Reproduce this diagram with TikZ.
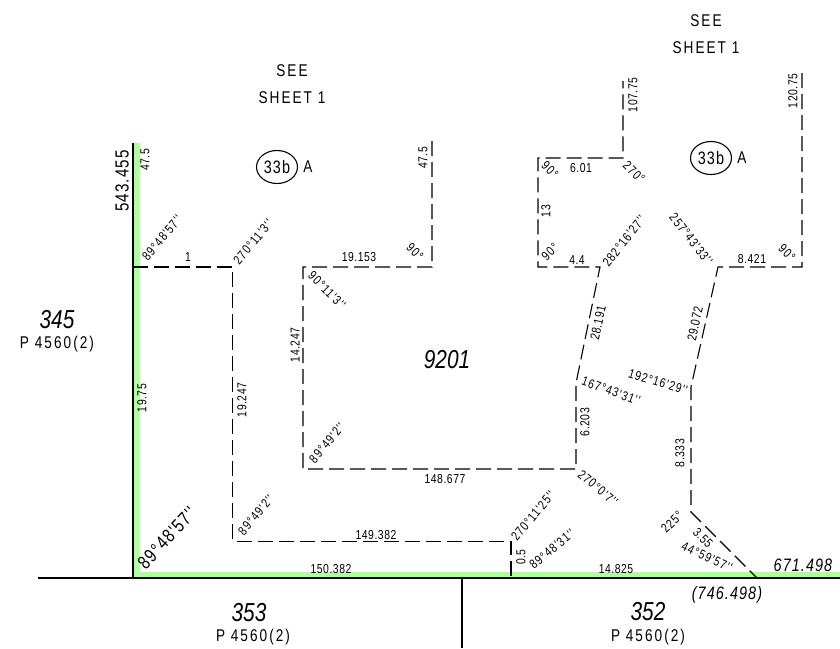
\documentclass[tikz,border=0pt]{standalone}
\usepackage{fontspec}
\setmainfont[FakeStretch=0.8,Ligatures=TeXOff]{Liberation Sans}
\newfontfamily\dimfont[FakeStretch=0.8,Ligatures=TeXOff,LetterSpace=4]{Liberation Sans}
\newfontfamily\angfont[FakeStretch=0.8,Ligatures=TeXOff,LetterSpace=8]{Liberation Sans}
\newfontfamily\midfont[FakeStretch=0.8,Ligatures=TeXOff,LetterSpace=6]{Liberation Sans}
\newfontfamily\widefont[FakeStretch=0.8,Ligatures=TeXOff,LetterSpace=12]{Liberation Sans}
\usetikzlibrary{shapes.geometric}
\definecolor{boundary}{RGB}{178,255,160}
\tikzstyle{dim}=[inner sep=0pt,font=\fontsize{13}{13}\selectfont\dimfont]
\tikzstyle{ang}=[inner sep=0pt,font=\fontsize{13}{13}\selectfont\angfont]
\tikzstyle{note}=[inner sep=0pt,font=\fontsize{17}{17}\selectfont\widefont]
\tikzstyle{bearing}=[inner sep=0pt,font=\fontsize{19}{19}\selectfont\midfont]
\tikzstyle{slanted}=[inner sep=0pt,font=\fontsize{18}{18}\selectfont\midfont\itshape]
\tikzstyle{lot}=[inner sep=0pt,font=\fontsize{26}{26}\selectfont\itshape]
\tikzstyle{tag}=[ellipse,draw,line width=1.1pt,minimum width=41pt,minimum height=33pt,inner sep=0pt,font=\fontsize{18}{18}\selectfont\midfont]
\tikzstyle{lotline}=[line width=1.1pt]
\tikzstyle{easement}=[line width=1.1pt,dash pattern=on 15pt off 6pt]
\tikzstyle{green}=[line width=6pt,draw=boundary]

\begin{document}
\begin{tikzpicture}[x=1pt,y=-1pt]
			\useasboundingbox (0,0) rectangle (840,648);
			\fill[white] (0,0) rectangle (840,648);

			\coordinate (nw) at (133,143); \coordinate (sw) at (133,578);
			\coordinate (west) at (38,578); \coordinate (east) at (840,578);
			\coordinate (lotn) at (462,578); \coordinate (lots) at (462,648);
			\coordinate (gnw) at (137,143); \coordinate (gsw) at (137,575); \coordinate (gse) at (840,575);

			\draw[green] (gnw) -- (gsw) -- (gse);
			\draw[lotline] (nw) -- (sw);
			\draw[lotline] (west) -- (east);
			\draw[lotline] (lotn) -- (lots);

			\coordinate (a1) at (133,267); \coordinate (a2) at (232.6,267); \coordinate (a3) at (232.6,541.4);
			\coordinate (a4) at (511,541.4); \coordinate (a5) at (511,576);
			\draw[easement] (a1) -- (a2) -- (a3) -- (a4) -- (a5);

			\coordinate (b1) at (432,141); \coordinate (b2) at (432,267); \coordinate (b3) at (303,267);
			\coordinate (b4) at (303,469); \coordinate (b5) at (576,469); \coordinate (b6) at (576,383);
			\coordinate (b7) at (600,267); \coordinate (b8) at (538,267); \coordinate (b9) at (538,158);
			\coordinate (b10) at (623,158); \coordinate (b11) at (623,81);
			\draw[easement] (b1) -- (b2) -- (b3) -- (b4) -- (b5) -- (b6) -- (b7) -- (b8) -- (b9) -- (b10) -- (b11);

			\coordinate (c1) at (802,73); \coordinate (c2) at (802,267); \coordinate (c3) at (718,267);
			\coordinate (c4) at (691,387); \coordinate (c5) at (691,512); \coordinate (c6) at (757,578);
			\draw[easement] (c1) -- (c2) -- (c3) -- (c4) -- (c5) -- (c6);

			\node [note] (see1) at (292,71) {SEE}; \node [note] (sheet1) at (292,98) {SHEET 1};
			\node [note] (see2) at (706,21) {SEE}; \node [note] (sheet2) at (706,48) {SHEET 1};
			\node [tag] (tag1) at (277,167) {33b}; \node [note] (tagA1) at (308,167) {A};
			\node [tag] (tag2) at (711,158) {33b}; \node [note] (tagA2) at (742,158) {A};

			\node [bearing,rotate=90] (brg1) at (122,181) {543.455};
			\node [bearing,rotate=47] (brg2) at (167,538) {89°48'57''};
			\node [slanted] (brg3) at (803,565) {671.498};
			\node [slanted] (brg4) at (727,595) {(746.498)};

			\node [lot] (lot345) at (57,320) {345}; \node [note] (plan345) at (57,344) {P 4560(2)};
			\node [lot] (lot353) at (249,613) {353}; \node [note] (plan353) at (253,637) {P 4560(2)};
			\node [lot] (lot352) at (648,612) {352}; \node [note] (plan352) at (648,637) {P 4560(2)};
			\node [lot] (lot9201) at (447,360) {9201};

			\node [dim,rotate=90] (len1) at (145,160) {47.5};
			\node [dim] (len2) at (188,257) {1};
			\node [dim] (len3) at (359,257) {19.153};
			\node [dim,rotate=90] (len4) at (423,158) {47.5};
			\node [dim,rotate=90] (len5) at (142,398) {19.75};
			\node [dim,rotate=90] (len6) at (242,400) {19.247};
			\node [dim,rotate=90] (len7) at (295,345) {14.247};
			\node [dim] (len8) at (445,479) {148.677};
			\node [dim] (len9) at (376,535) {149.382};
			\node [dim] (len10) at (331,569) {150.382};
			\node [dim,rotate=90] (len11) at (521,557) {0.5};
			\node [dim] (len12) at (616,569) {14.825};
			\node [dim,rotate=90] (len13) at (585,422) {6.203};
			\node [dim,rotate=78] (len14) at (598,323) {28.191};
			\node [dim,rotate=78] (len15) at (695,324) {29.072};
			\node [dim,rotate=90] (len16) at (680,453) {8.333};
			\node [dim,rotate=-45] (len17) at (703,538) {3.55};
			\node [dim,rotate=90] (len18) at (633,95) {107.75};
			\node [dim] (len19) at (581,168) {6.01};
			\node [dim,rotate=90] (len20) at (546,211) {13};
			\node [dim] (len21) at (577,260) {4.4};
			\node [dim] (len22) at (752,259) {8.421};
			\node [dim,rotate=90] (len23) at (793,91) {120.75};

			\node [ang,rotate=50] (ang1) at (162,238) {89°48'57''};
			\node [ang,rotate=50] (ang2) at (253,242) {270°11'3''};
			\node [ang,rotate=-45] (ang3) at (415,252) {90°};
			\node [ang,rotate=-45] (ang4) at (327,290) {90°11'3''};
			\node [ang,rotate=50] (ang5) at (327,443) {89°49'2''};
			\node [ang,rotate=50] (ang6) at (256,515) {89°49'2''};
			\node [ang,rotate=50] (ang7) at (533,516) {270°11'25''};
			\node [ang,rotate=40] (ang8) at (552,549) {89°48'31''};
			\node [ang,rotate=45] (ang9) at (672,522) {225°};
			\node [ang,rotate=-25] (ang10) at (707,557) {44°59'57''};
			\node [ang,rotate=-40] (ang11) at (598,488) {270°0'7''};
			\node [ang,rotate=-20] (ang12) at (611,391) {167°43'31''};
			\node [ang,rotate=-17] (ang13) at (658,382) {192°16'29''};
			\node [ang,rotate=-45] (ang14) at (550,170) {90°};
			\node [ang,rotate=45] (ang15) at (550,252) {90°};
			\node [ang,rotate=52] (ang16) at (624,241) {282°16'27''};
			\node [ang,rotate=-45] (ang17) at (634,172) {270°};
			\node [ang,rotate=-52] (ang18) at (691,239) {257°43'33''};
			\node [ang,rotate=-45] (ang19) at (787,253) {90°};
\end{tikzpicture}
\end{document}
